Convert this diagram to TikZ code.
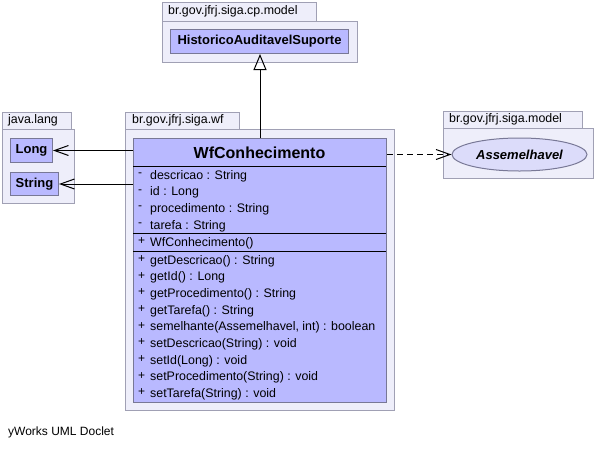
\documentclass[tikz,border=0pt]{standalone}
\usepackage{fontspec}
\setmainfont{Liberation Sans}
\usetikzlibrary{arrows.meta,shapes.geometric}
\definecolor{pkgfill}{RGB}{238,238,250}
\definecolor{pkgline}{RGB}{160,160,180}
\definecolor{clsfill}{RGB}{185,185,255}
\definecolor{clsline}{RGB}{120,120,150}
\definecolor{ifill}{RGB}{220,220,250}
\tikzset{
  pkg/.style={draw=pkgline, fill=pkgfill, line width=1pt, inner sep=0pt, anchor=north west},
  pkglabel/.style={anchor=west, inner sep=0pt, font=\fontsize{12.4}{14}\selectfont},
  cbox/.style={draw=clsline, fill=clsfill, line width=1pt, inner sep=0pt, anchor=north west, font=\fontsize{13}{15}\selectfont\bfseries},
  member/.style={anchor=west, inner sep=0pt, font=\fontsize{12.4}{14}\selectfont},
  vis/.style={anchor=west, inner sep=0pt, font=\fontsize{12}{14}\selectfont},
  sepline/.style={line width=1pt, black},
  assoc/.style={line width=1pt, -{Straight Barb[length=14pt,width=10pt,line width=1pt]}},
}
\begin{document}
\begin{tikzpicture}[x=1pt,y=-1pt]
\useasboundingbox[fill=white] (0,0) rectangle (597,448);
% cp.model package
\node[pkg, minimum width=154, minimum height=19] (cptab) at (162,2) {};
\node[pkg, minimum width=195, minimum height=41] (cpbody) at (162,21) {};
\node[pkglabel] (cplabel) at (168,11.5) {br.gov.jfrj.siga.cp.model};
\node[cbox, minimum width=178, minimum height=24] (hist) at (170,29) {HistoricoAuditavelSuporte};
% java.lang package
\node[pkg, minimum width=69, minimum height=17] (jtab) at (2,112) {};
\node[pkg, minimum width=72, minimum height=74] (jbody) at (2,129) {};
\node[pkglabel] (jlabel) at (8,120.5) {java.lang};
\node[cbox, minimum width=42, minimum height=24] (long) at (10,138) {Long};
\node[cbox, minimum width=48, minimum height=23] (string) at (10,172) {String};
% model package
\node[pkg, minimum width=139, minimum height=17] (mtab) at (443,111) {};
\node[pkg, minimum width=150, minimum height=50] (mbody) at (443,128) {};
\node[pkglabel] (mlabel) at (449,119.5) {br.gov.jfrj.siga.model};
\node[ellipse, draw=clsline, fill=ifill, line width=1pt, inner sep=0pt, minimum width=135, minimum height=33, font=\fontsize{13}{15}\selectfont\bfseries\itshape] (ass) at (519.5,154.5) {Assemelhavel};
% wf package
\node[pkg, minimum width=114, minimum height=17] (wtab) at (125,112) {};
\node[pkg, minimum width=269, minimum height=281] (wbody) at (125,129) {};
\node[pkglabel] (wlabel) at (132,120.5) {br.gov.jfrj.siga.wf};
% class
\node[draw=clsline, fill=clsfill, line width=1pt, inner sep=0pt, anchor=north west, minimum width=253, minimum height=264] (cls) at (133,138) {};
\node[font=\fontsize{16}{18}\selectfont\bfseries, inner sep=0pt] (title) at (259.5,153) {WfConhecimento};
\draw[sepline] (133,166) -- (386,166);
\draw[sepline] (133,233.5) -- (386,233.5);
\draw[sepline] (133,251.5) -- (386,251.5);
% attributes
\foreach \t [count=\i from 0] in {descricao : String, id : Long, procedimento : String, tarefa : String}{
  \node[vis] (av\i) at (138,{174.5+16.7*\i}) {-};
  \node[member] (a\i) at (150,{176+16.7*\i}) {\t};
}
\node[vis] (cv) at (138,241.5) {+};
\node[member] (ctor) at (150,243) {WfConhecimento()};
\foreach \t [count=\i from 0] in {getDescricao() : String, getId() : Long, getProcedimento() : String, getTarefa() : String, {semelhante(Assemelhavel, int) : boolean}, setDescricao(String) : void, setId(Long) : void, setProcedimento(String) : void, setTarefa(String) : void}{
  \node[vis] (mv\i) at (138,{259+16.67*\i}) {+};
  \node[member] (m\i) at (150,{261+16.67*\i}) {\t};
}
% connectors
\draw[line width=1pt, -{Triangle[open,length=16pt,width=13pt,line width=1pt]}] (cls.north) -- (cls.north |- hist.south);
\draw[assoc] (cls.west |- long.east) -- (long.east);
\draw[assoc] (cls.west |- string.east) -- (string.east);
\draw[assoc, dashed, dash pattern=on 6pt off 4pt] (cls.east |- ass.west) -- (ass.west);
% footer
\node[anchor=west, inner sep=0pt, font=\fontsize{12}{14}\selectfont] (foot) at (8,432) {yWorks UML Doclet};
\end{tikzpicture}
\end{document}
